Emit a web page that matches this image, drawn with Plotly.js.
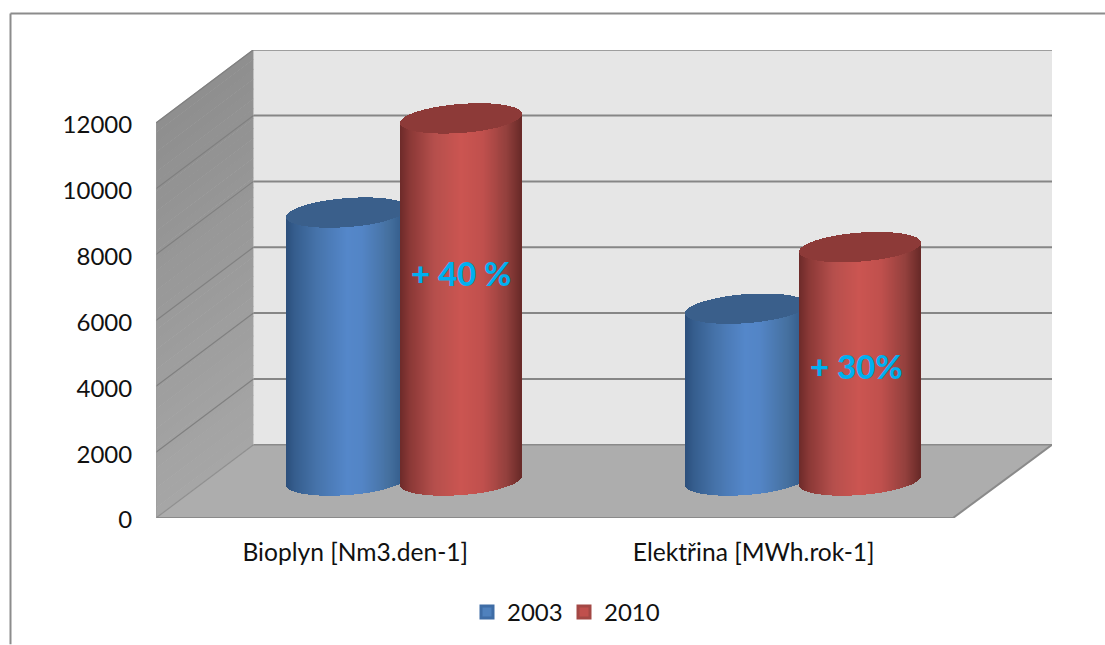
<!DOCTYPE html>
<html><head><meta charset="utf-8">
<script src="https://cdn.plot.ly/plotly-3.0.1.min.js"></script>
<style>html,body{margin:0;padding:0;background:#fff}#c{width:1105px;height:645px}</style>
</head><body><div id="c"></div>
<script>
// ---- data ----
const categories = ["Bioplyn [Nm3.den-1]", "Elektřina [MWh.rok-1]"];
const seriesNames = ["2003", "2010"];
const values2003 = [8140, 5220];
const values2010 = [11000, 7090];
const yTicks = [0, 2000, 4000, 6000, 8000, 10000, 12000];
const yTickLabels = ["0", "2000", "4000", "6000", "8000", "10000", "12000"];
const noteTexts = ["+ 40 %", "+ 30%"];
const noteValues = [6300, 3480];

// ---- appearance ----
const W = 1105, H = 645, L = 156, R = 1052, T = 50, B = 518.5;
const pxPerCat = 398.5, pxPerUnit = 395.5 / 12000;
const xMin = -0.5, xMax = xMin + (R - L) / pxPerCat, yMax = (B - T) / pxPerUnit;
const dX = 97.5 / pxPerCat, dY = 73.3 / pxPerUnit;           // depth of the box
const baseY = (B - 481) / pxPerUnit;                    // floor level under the cylinders
const cylW = 121 / pxPerCat, cylShift = (dX + 1 / pxPerCat) / 2, cylGap = 57 / pxPerCat;
const tilt = 4.5 / pxPerUnit, flat = 14.5 / pxPerUnit;
const font = "Lato, Carlito, Calibri, sans-serif";
const blueStops = [[0,"#2b4e7b"],[.07,"#355d8d"],[.25,"#4673aa"],[.5,"#5487ca"],[.62,"#5385c6"],[.85,"#45709f"],[1,"#2e5685"]];
const redStops  = [[0,"#6c2a29"],[.08,"#8a3836"],[.28,"#b54f4c"],[.5,"#cb5551"],[.68,"#c0504d"],[.88,"#93403d"],[1,"#692a28"]];
const blueLid = "#3a5f8b", redLid = "#8d3a38";
const blueSolid = "#4f81bd", redSolid = "#c0504d";

function hex(c){return [1,3,5].map(i=>parseInt(c.substr(i,2),16));}
function shade(stops,t){
  for(let i=1;i<stops.length;i++){ if(t<=stops[i][0]){
    const a=stops[i-1],b=stops[i],f=(t-a[0])/(b[0]-a[0]),p=hex(a[1]),q=hex(b[1]);
    return "rgb("+p.map((v,j)=>Math.round(v+(q[j]-v)*f)).join(",")+")";
  }}
  return stops[stops.length-1][1];
}
function cylinderTraces(catIdx,value,sign,stops,lid){
  const cx = catIdx + cylShift + sign*cylGap, n = 122, w = cylW/n;
  const xs=[],bodyBase=[],bodyH=[],lidBase=[],lidH=[],cols=[];
  for(let i=0;i<n;i++){
    const u=(i+.5)/n*2-1, half=flat*Math.sqrt(1-u*u), top=baseY+value;
    xs.push(cx+u*cylW/2);
    const b0=baseY+tilt*u-half, b1=top+tilt*u;
    bodyBase.push(b0); bodyH.push(b1-b0);
    lidBase.push(top+tilt*u-half); lidH.push(2*half);
    cols.push(shade(stops,(u+1)/2));
  }
  const common={type:"bar",x:xs,width:xs.map(()=>w*1.4),showlegend:false,hoverinfo:"skip"};
  return [
    Object.assign({},common,{base:bodyBase,y:bodyH,marker:{color:cols,line:{width:0}}}),
    Object.assign({},common,{base:lidBase,y:lidH,marker:{color:lid,line:{width:0}}})
  ];
}
function seriesTraces(name,vals,sign,stops,lid,solid,edge){
  const solidTrace={type:"bar",name:name,x:categories.map((c,i)=>i+cylShift+sign*cylGap),y:vals,base:baseY,
    width:cylW*0.7,marker:{color:solid,line:{color:edge,width:3}},hoverinfo:"name+y"};
  let out=[solidTrace];
  vals.forEach((v,i)=>{out=out.concat(cylinderTraces(i,v,sign,stops,lid));});
  return out;
}
const traces=[].concat(
  seriesTraces(seriesNames[0],values2003,-1,blueStops,blueLid,blueSolid,"#3f6da6"),
  seriesTraces(seriesNames[1],values2010, 1,redStops,redLid,redSolid,"#a34845")
);

// ---- the box behind the chart ----
const shapes=[];
function poly(p,fill,line,lw){
  shapes.push({type:"path",xref:"x",yref:"y",layer:"below",
    path:"M"+p.map(q=>q[0]+","+q[1]).join("L")+"Z",fillcolor:fill,line:{width:lw||0,color:line||fill}});
}
function seg(x0,y0,x1,y1,c,lw){shapes.push({type:"line",xref:"x",yref:"y",layer:"below",x0,y0,x1,y1,line:{color:c,width:lw}});}
const fr=xMin+2;
poly([[xMin+dX,dY],[xMax,dY],[xMax,12000+dY],[xMin+dX,12000+dY]],"#e6e6e6");
const bands=40;
for(let i=0;i<bands;i++){
  const a=12000*i/bands,b=12000*(i+1)/bands+20,g=Math.round(166-(i/bands)*24);
  const c="rgb("+g+","+g+","+g+")";
  poly([[xMin,a],[xMin+dX,a+dY],[xMin+dX,b+dY],[xMin,b]],c);
}
poly([[xMin,0],[fr,0],[xMax,dY],[xMin+dX,dY]],"#adadad");
yTicks.slice(1).forEach(v=>{
  seg(xMin+dX,v+dY,xMax,v+dY,"#868686",2);
  seg(xMin,v,xMin+dX,v+dY,"#808080",1.2);
});
seg(xMin,0,xMin+dX,dY,"#8f8f8f",1.2);
seg(xMin+dX,dY,xMax,dY,"#8a8a8a",1.5);
seg(xMin,0,fr,0,"#8a8a8a",2);
seg(fr,0,xMax,dY,"#8a8a8a",2);
seg(xMin,0,xMin,12000,"#9a9a9a",1);
// outer frame of the picture
const fx=p=>(p-L)/(R-L), fy=p=>(B-p)/(B-T);
shapes.push({type:"line",xref:"paper",yref:"paper",x0:fx(10.5),x1:fx(W),y0:fy(13.5),y1:fy(13.5),line:{color:"#8c8c8c",width:2}});
shapes.push({type:"line",xref:"paper",yref:"paper",x0:fx(10.5),x1:fx(10.5),y0:fy(13.5),y1:fy(H),line:{color:"#8c8c8c",width:2}});

const annotations=noteTexts.map((t,i)=>({xref:"x",yref:"y",x:i+cylShift+cylGap-(i?0.008:0)-0.002,y:baseY+noteValues[i],text:t,
  showarrow:false,xanchor:"center",yanchor:"middle",font:{family:font,size:33,weight:900,color:"#00b0f0"}}));

const layout={
  width:W,height:H,paper_bgcolor:"#fff",plot_bgcolor:"rgba(0,0,0,0)",
  margin:{l:L,r:W-R,t:T,b:H-B,pad:0,autoexpand:false},
  barmode:"overlay",bargap:0,
  xaxis:{range:[xMin,xMax],tickmode:"array",tickvals:[0,1],ticktext:categories,showgrid:false,zeroline:false,showline:false,
    ticks:"outside",ticklen:12,tickcolor:"rgba(0,0,0,0)",tickfont:{family:font,size:24.6,color:"#111"},fixedrange:true},
  yaxis:{range:[0,yMax],tickmode:"array",tickvals:yTicks,ticktext:yTickLabels,showgrid:false,zeroline:false,showline:false,
    ticks:"outside",ticklen:18,ticklabelshift:2,tickcolor:"rgba(0,0,0,0)",tickfont:{family:font,size:24,color:"#111"},fixedrange:true},
  legend:{orientation:"h",xanchor:"center",yanchor:"middle",x:fx(564),y:fy(613),font:{family:font,size:24,color:"#111"},bgcolor:"rgba(0,0,0,0)",entrywidth:52,entrywidthmode:"pixels"},
  shapes:shapes,annotations:annotations,showlegend:true
};
Plotly.newPlot("c",traces,layout,{displayModeBar:false});
</script></body></html>
